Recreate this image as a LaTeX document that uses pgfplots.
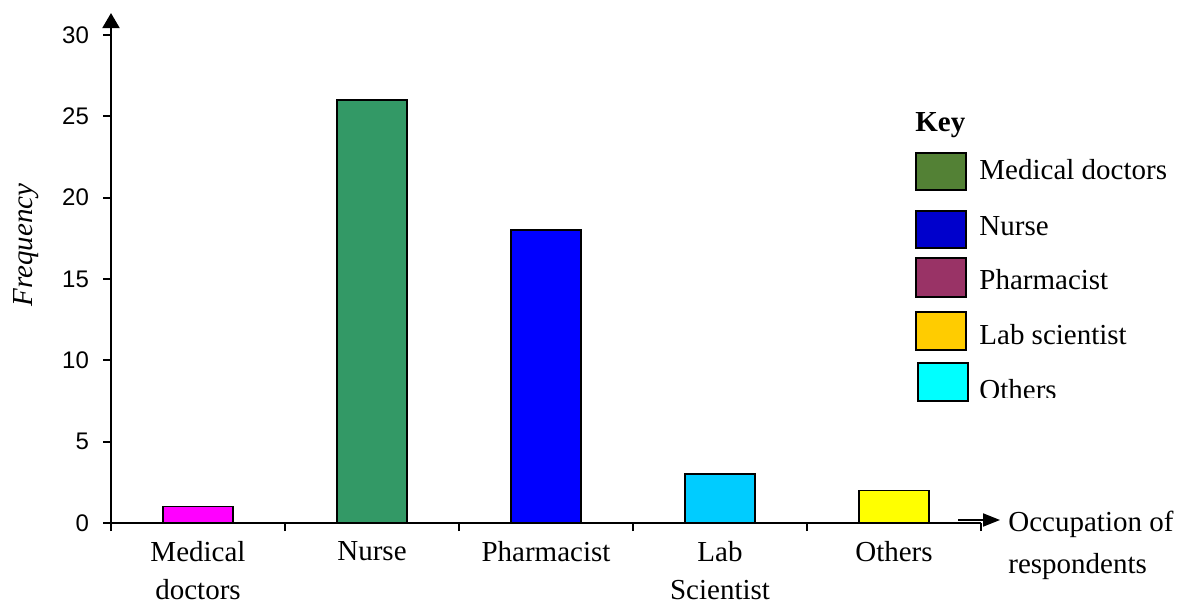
\documentclass[border=0pt]{standalone}
\usepackage{fontspec}
\setmainfont{Liberation Serif}
\newfontfamily\arial{Liberation Sans}
\usepackage{pgfplots}
\pgfplotsset{compat=1.18}
\usetikzlibrary{arrows.meta}
% bar colours
\definecolor{bMed}{HTML}{FF00FF}
\definecolor{bNur}{HTML}{339966}
\definecolor{bPha}{HTML}{0000FF}
\definecolor{bLab}{HTML}{00CCFF}
\definecolor{bOth}{HTML}{FFFF00}
% key colours (as printed in the key)
\definecolor{kMed}{HTML}{538135}
\definecolor{kNur}{HTML}{0000CC}
\definecolor{kPha}{HTML}{993366}
\definecolor{kLab}{HTML}{FFCC00}
\definecolor{kOth}{HTML}{00FFFF}
\newcommand\txt{\fontsize{14.5}{21}\selectfont}

\begin{document}
\begin{tikzpicture}
\begin{axis}[
  x=87pt, y=8.1333pt,
  xmin=0.5, xmax=5.5, ymin=0, ymax=31.35,
  axis x line*=bottom, axis y line*=left,
  x axis line style={line width=1pt},
  y axis line style={line width=1pt,-{Triangle[length=7.5pt,width=8.5pt]}},
  tick align=outside,
  major tick length=4pt, minor tick length=4pt,
  tick style={line width=1pt,black},
  xtick={1,...,5},
  xticklabels={Medical\\doctors,Nurse,Pharmacist,Lab\\Scientist,Others},
  major x tick style={draw=none},
  minor xtick={0.5,1.5,...,5.5},
  ytick={0,5,...,30},
  xticklabel style={font=\fontsize{14.5}{19}\selectfont,align=center,yshift=-4pt,inner sep=1pt},
  yticklabel style={font=\arial\fontsize{12}{13}\selectfont,xshift=-3.5pt},
  /pgf/number format/assume math mode=true,
  ybar, bar width=0.4,
  every axis plot/.append style={bar shift=0pt,draw=black,line width=0.75pt},
]
\addplot[fill=bMed] coordinates {(1,1)};
\addplot[fill=bNur] coordinates {(2,26)};
\addplot[fill=bPha] coordinates {(3,18)};
\addplot[fill=bLab] coordinates {(4,3)};
\addplot[fill=bOth] coordinates {(5,2)};
\end{axis}

\begin{scope}[x=0.5pt,y=-0.5pt,shift={(-55.5pt,261.5pt)}]
  \node[rotate=90,font=\itshape\txt] at (26,245) {Frequency};
  % key
  \node[anchor=west,font=\bfseries\txt,inner sep=0pt] at (915,125) {Key};
  \draw[fill=kMed,line width=1pt] (916,153) rectangle (966,190);
  \draw[fill=kNur,line width=1pt] (916,211) rectangle (966,248);
  \draw[fill=kPha,line width=1pt] (916,258) rectangle (966,297);
  \draw[fill=kLab,line width=1pt] (916,312) rectangle (966,350);
  \draw[fill=kOth,line width=1pt] (918,363) rectangle (968,401);
  \begin{scope}[every node/.style={anchor=west,font=\txt,inner sep=0pt}]
    \node at (979,170) {Medical doctors};
    \node at (979,226) {Nurse};
    \node at (979,280) {Pharmacist};
    \node at (979,335) {Lab scientist};
    \begin{scope}
      \clip (970,360) rectangle (1181,397);
      \node at (979,390) {Others};
    \end{scope}
  \end{scope}
  % x axis arrow and its label
  \draw[line width=1pt,-{Triangle[length=8.5pt,width=6.5pt]}] (958,520) -- (1000,520);
  \node[anchor=west,align=left,inner sep=0pt,font=\txt] at (1008,545) {Occupation of\\respondents};
  \pgfresetboundingbox
  \path (0,0) rectangle (1181,606);
\end{scope}
\end{tikzpicture}
\end{document}
